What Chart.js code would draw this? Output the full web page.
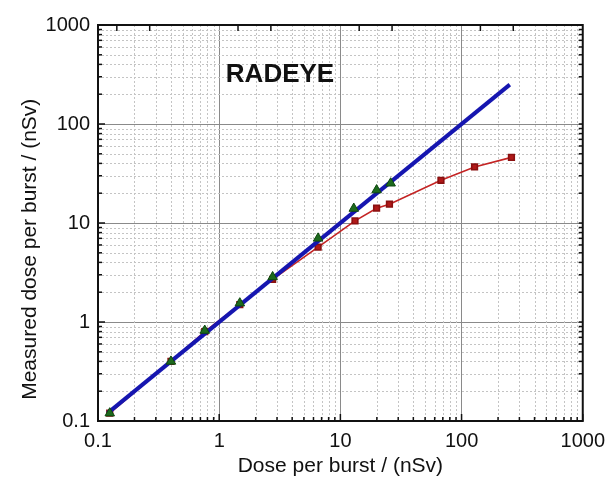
<!DOCTYPE html>
<html><head><meta charset="utf-8">
<script src="https://cdn.jsdelivr.net/npm/chart.js@4/dist/chart.umd.min.js"></script>
<style>html,body{margin:0;padding:0;background:#fff}#wrap{width:613px;height:479px;position:relative}</style>
</head><body><div id="wrap"><canvas id="c" width="613" height="479"></canvas></div>
<script>
// ---- data ----
const triX = [0.125, 0.40, 0.76, 1.48, 2.76, 6.55, 12.9, 19.9, 26.0];
const triY = [0.12, 0.40, 0.82, 1.55, 2.85, 7.0, 14.0, 21.5, 25.2];
const sqX = [0.125, 0.40, 0.76, 1.48, 2.76, 6.55, 13.2, 19.9, 25.4, 67.6, 128, 258];
const sqY = [0.12, 0.40, 0.80, 1.50, 2.70, 5.7, 10.5, 14.1, 15.5, 27.0, 36.8, 46.0];
const fitX = [0.12, 250];
const fitY = [0.12, 250];
const xTickLabels = ['0.1', '1', '10', '100', '1000'];
const yTickLabels = ['0.1', '1', '10', '100', '1000'];
const topTickMantissas = [1.43, 2.67];
const chartLabel = 'RADEYE';
const xTitle = 'Dose per burst / (nSv)';
const yTitle = 'Measured dose per burst / (nSv)';

const FONT = "'Liberation Sans', Arial, Helvetica, sans-serif";
const MIN = 0.1, MAX = 1000;

function isDecade(v) { const l = Math.log10(v); return Math.abs(l - Math.round(l)) < 1e-6; }
function logTicks() {
  const out = [];
  for (let e = -1; e <= 2; e++) for (let m = 1; m <= 9; m++) out.push(+(m * Math.pow(10, e)).toPrecision(6));
  out.push(1000);
  return out;
}
function labelFor(arr, v) {
  if (!isDecade(v)) return '';
  return arr[Math.round(Math.log10(v)) + 1] || '';
}
const pts = (xs, ys) => xs.map((x, i) => ({x, y: ys[i]}));

const framePlugin = {
  id: 'frame',
  beforeDatasetsDraw(chart) {
    const {ctx, chartArea: a, scales: {x, y}} = chart;
    ctx.save();
    ctx.strokeStyle = '#c4c4c4';
    ctx.lineWidth = 1;
    ctx.setLineDash([2, 2]);
    logTicks().forEach(v => {
      if (isDecade(v)) return;
      const px = Math.round(x.getPixelForValue(v)) + 0.5;
      ctx.beginPath(); ctx.moveTo(px, a.top); ctx.lineTo(px, a.bottom); ctx.stroke();
      const py = Math.round(y.getPixelForValue(v)) + 0.5;
      ctx.beginPath(); ctx.moveTo(a.left, py); ctx.lineTo(a.right, py); ctx.stroke();
    });
    ctx.restore();
  },
  afterDraw(chart) {
    const {ctx, chartArea: a, scales: {x, y}} = chart;
    ctx.save();
    ctx.strokeStyle = '#111';
    ctx.lineWidth = 2;
    ctx.strokeRect(a.left, a.top, a.right - a.left, a.bottom - a.top);
    ctx.lineWidth = 1.5;
    logTicks().forEach(v => {
      const len = isDecade(v) ? 7 : 4;
      const px = x.getPixelForValue(v);
      ctx.beginPath(); ctx.moveTo(px, a.bottom); ctx.lineTo(px, a.bottom - len); ctx.stroke();
      const py = y.getPixelForValue(v);
      ctx.beginPath(); ctx.moveTo(a.left, py); ctx.lineTo(a.left + len, py); ctx.stroke();
      ctx.beginPath(); ctx.moveTo(a.right, py); ctx.lineTo(a.right - 4, py); ctx.stroke();
    });
    for (let e = -1; e <= 2; e++) topTickMantissas.forEach(m => {
      const px = x.getPixelForValue(m * Math.pow(10, e));
      ctx.beginPath(); ctx.moveTo(px, a.top); ctx.lineTo(px, a.top + 6); ctx.stroke();
    });
    ctx.fillStyle = '#111';
    ctx.font = "bold 26px " + FONT;
    ctx.textAlign = 'center';
    ctx.textBaseline = 'alphabetic';
    ctx.fillText(chartLabel, 280, 82);
    ctx.restore();
  }
};

new Chart(document.getElementById('c'), {
  type: 'scatter',
  data: {
    datasets: [
      { label: 'triangles', data: pts(triX, triY), showLine: false, pointStyle: 'triangle',
        pointRadius: 5.5, backgroundColor: '#1d6a1d', borderColor: '#0e480e', borderWidth: 1, order: 0 },
      { label: 'fit', data: pts(fitX, fitY), showLine: true, borderColor: '#1616b0', borderWidth: 4,
        pointRadius: 0, order: 1 },
      { label: 'squares', data: pts(sqX, sqY), showLine: true, borderColor: '#c42424', borderWidth: 1.6,
        pointStyle: 'rect', pointRadius: 4, backgroundColor: '#b01818', pointBorderColor: '#8a1010', order: 2 }
    ]
  },
  options: {
    responsive: false,
    devicePixelRatio: 1,
    animation: false,
    layout: { padding: { left: 0, right: 26, top: 25, bottom: 0 } },
    plugins: { legend: { display: false }, tooltip: { enabled: false } },
    scales: {
      x: {
        type: 'logarithmic', min: MIN, max: MAX,
        afterBuildTicks(s) { s.ticks = logTicks().map(v => ({ value: v, major: isDecade(v) })); },
        afterFit(s) { s.height = 58; },
        border: { display: false },
        grid: { drawTicks: false, color: c => (c.tick && isDecade(c.tick.value)) ? '#8a8a8a' : 'rgba(0,0,0,0)', lineWidth: 1 },
        ticks: { autoSkip: false, maxRotation: 0, padding: 8, color: '#111',
          font: { family: FONT, size: 20 }, callback: v => labelFor(xTickLabels, v) },
        title: { display: true, text: xTitle, color: '#111', font: { family: FONT, size: 21 }, padding: 0 }
      },
      y: {
        type: 'logarithmic', min: MIN, max: MAX,
        afterBuildTicks(s) { s.ticks = logTicks().map(v => ({ value: v, major: isDecade(v) })); },
        afterFit(s) { s.width = 98; },
        border: { display: false },
        grid: { drawTicks: false, color: c => (c.tick && isDecade(c.tick.value)) ? '#8a8a8a' : 'rgba(0,0,0,0)', lineWidth: 1 },
        ticks: { autoSkip: false, padding: 8, color: '#111',
          font: { family: FONT, size: 20 }, callback: v => labelFor(yTickLabels, v) },
        title: { display: true, text: yTitle + '\u00a0'.repeat(9), color: '#111', font: { family: FONT, size: 21 }, padding: 18 }
      }
    }
  },
  plugins: [framePlugin]
});
</script>
</body></html>
